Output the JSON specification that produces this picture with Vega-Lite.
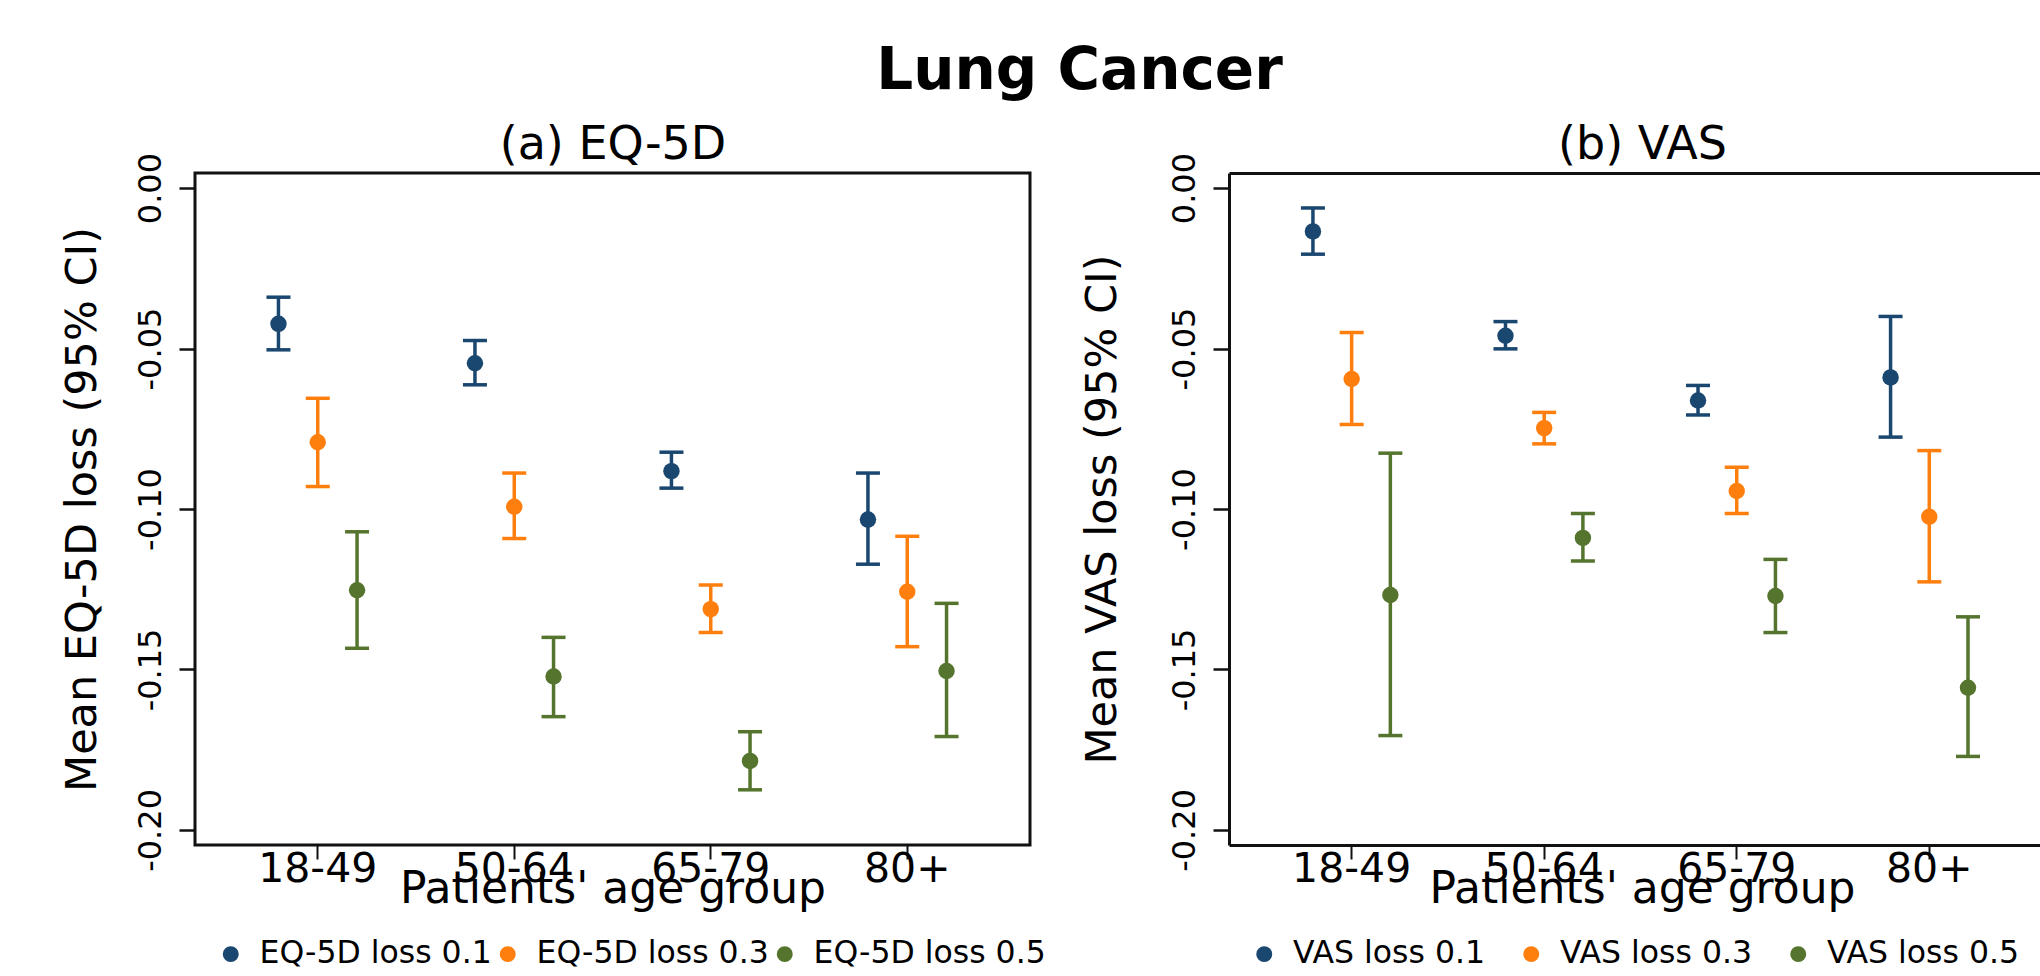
{
  "$schema": "https://vega.github.io/schema/vega-lite/v6.json",
  "padding": {"left": 59, "top": 40, "right": 0, "bottom": 0},
  "bounds": "flush",
  "spacing": 199,
  "config": {
    "font": "DejaVu Sans",
    "view": {"stroke": "#111", "strokeWidth": 3},
    "axis": {"grid": false, "labelColor": "#000", "titleColor": "#000", "tickColor": "#111", "domainColor": "#111", "labelFont": "DejaVu Sans", "titleFont": "DejaVu Sans"},
    "legend": {"labelFont": "DejaVu Sans", "labelColor": "#000"}
  },
  "resolve": {
    "scale": {"color": "independent", "x": "independent", "y": "independent", "xOffset": "independent"},
    "legend": {"color": "independent"},
    "axis": {"x": "independent", "y": "independent"}
  },
  "datasets": {
    "eq": [
      {"age": "18-49", "s": "0.1", "label": "EQ-5D loss 0.1", "m": -0.0423, "lo": -0.0504, "hi": -0.0340},
      {"age": "18-49", "s": "0.3", "label": "EQ-5D loss 0.3", "m": -0.0792, "lo": -0.0930, "hi": -0.0655},
      {"age": "18-49", "s": "0.5", "label": "EQ-5D loss 0.5", "m": -0.1253, "lo": -0.1434, "hi": -0.1071},
      {"age": "50-64", "s": "0.1", "label": "EQ-5D loss 0.1", "m": -0.0546, "lo": -0.0613, "hi": -0.0475},
      {"age": "50-64", "s": "0.3", "label": "EQ-5D loss 0.3", "m": -0.0993, "lo": -0.1092, "hi": -0.0888},
      {"age": "50-64", "s": "0.5", "label": "EQ-5D loss 0.5", "m": -0.1522, "lo": -0.1647, "hi": -0.1400},
      {"age": "65-79", "s": "0.1", "label": "EQ-5D loss 0.1", "m": -0.0882, "lo": -0.0935, "hi": -0.0823},
      {"age": "65-79", "s": "0.3", "label": "EQ-5D loss 0.3", "m": -0.1312, "lo": -0.1385, "hi": -0.1237},
      {"age": "65-79", "s": "0.5", "label": "EQ-5D loss 0.5", "m": -0.1785, "lo": -0.1875, "hi": -0.1694},
      {"age": "80+", "s": "0.1", "label": "EQ-5D loss 0.1", "m": -0.1033, "lo": -0.1172, "hi": -0.0888},
      {"age": "80+", "s": "0.3", "label": "EQ-5D loss 0.3", "m": -0.1258, "lo": -0.1429, "hi": -0.1085},
      {"age": "80+", "s": "0.5", "label": "EQ-5D loss 0.5", "m": -0.1505, "lo": -0.1709, "hi": -0.1294}
    ],
    "vas": [
      {"age": "18-49", "s": "0.1", "label": "VAS loss 0.1", "m": -0.0135, "lo": -0.0206, "hi": -0.0062},
      {"age": "18-49", "s": "0.3", "label": "VAS loss 0.3", "m": -0.0595, "lo": -0.0737, "hi": -0.0450},
      {"age": "18-49", "s": "0.5", "label": "VAS loss 0.5", "m": -0.1268, "lo": -0.1706, "hi": -0.0826},
      {"age": "50-64", "s": "0.1", "label": "VAS loss 0.1", "m": -0.0460, "lo": -0.0501, "hi": -0.0416},
      {"age": "50-64", "s": "0.3", "label": "VAS loss 0.3", "m": -0.0748, "lo": -0.0797, "hi": -0.0699},
      {"age": "50-64", "s": "0.5", "label": "VAS loss 0.5", "m": -0.1090, "lo": -0.1162, "hi": -0.1014},
      {"age": "65-79", "s": "0.1", "label": "VAS loss 0.1", "m": -0.0662, "lo": -0.0707, "hi": -0.0615},
      {"age": "65-79", "s": "0.3", "label": "VAS loss 0.3", "m": -0.0944, "lo": -0.1014, "hi": -0.0870},
      {"age": "65-79", "s": "0.5", "label": "VAS loss 0.5", "m": -0.1271, "lo": -0.1385, "hi": -0.1157},
      {"age": "80+", "s": "0.1", "label": "VAS loss 0.1", "m": -0.0590, "lo": -0.0776, "hi": -0.0400},
      {"age": "80+", "s": "0.3", "label": "VAS loss 0.3", "m": -0.1024, "lo": -0.1227, "hi": -0.0818},
      {"age": "80+", "s": "0.5", "label": "VAS loss 0.5", "m": -0.1557, "lo": -0.1771, "hi": -0.1336}
    ]
  },
  "hconcat": [
    {
      "width": 835,
      "height": 672,
      "data": {"name": "eq"},
      "resolve": {"axis": {"x": "independent", "y": "independent"}},
      "encoding": {
        "xOffset": {"field": "s", "type": "nominal", "sort": ["0.1", "0.3", "0.5"], "scale": {"paddingInner": 0, "paddingOuter": 1.019}},
        "color": {"field": "label", "type": "nominal",
          "scale": {"domain": ["EQ-5D loss 0.1", "EQ-5D loss 0.3", "EQ-5D loss 0.5"], "range": ["#1a476f", "#ff7f0e", "#55752f"]},
          "legend": {"orient": "none", "legendX": 20, "legendY": 765, "direction": "horizontal", "columns": 3, "title": null, "labelFontSize": 31.5, "symbolSize": 254, "symbolType": "circle", "labelOffset": 13, "columnPadding": 0, "padding": 0, "labelLimit": 400, "symbolStrokeWidth": 0}}
      },
      "layer": [
        {
          "mark": {"type": "rule", "strokeWidth": 3.5},
          "encoding": {
            "x": {"field": "age", "type": "nominal", "sort": ["18-49", "50-64", "65-79", "80+"], "title": "Patients' age group",
              "scale": {"paddingInner": 0, "paddingOuter": 0.1247},
              "axis": {"labelAngle": 0, "labelFontSize": 41, "labelBaseline": "top", "tickSize": 14, "tickWidth": 2, "labelPadding": -9.5, "domain": false, "titleFontSize": 44, "titleFontWeight": "normal", "titleBaseline": "alphabetic", "titleY": 57, "titleX": 417.5, "labelOverlap": false, "labelBound": false}},
            "y": {"field": "lo", "type": "quantitative", "title": "Mean EQ-5D loss (95% CI)",
              "scale": {"domain": [-0.2047, 0.0047], "nice": false, "zero": false},
              "axis": {"values": [0, -0.05, -0.1, -0.15, -0.2], "labelExpr": "replace(format(datum.value, '.2f'), '\u2212', '-')", "labelAngle": 270, "labelAlign": "center", "labelBaseline": "alphabetic", "labelFontSize": 32, "labelPadding": 19, "tickSize": 16, "tickWidth": 2.5, "domain": false, "titleFontSize": 43, "titleFontWeight": "normal", "titleAngle": 270, "titleAlign": "center", "titleBaseline": "alphabetic", "titleX": -100, "titleY": 336, "labelOverlap": false, "labelBound": false}},
            "y2": {"field": "hi"}
          }
        },
        {
          "mark": {"type": "tick", "size": 24, "thickness": 3.5, "opacity": 1},
          "encoding": {
            "x": {"field": "age", "type": "nominal", "sort": ["18-49", "50-64", "65-79", "80+"], "axis": null},
            "y": {"field": "lo", "type": "quantitative", "axis": null}}
        },
        {
          "mark": {"type": "tick", "size": 24, "thickness": 3.5, "opacity": 1},
          "encoding": {
            "x": {"field": "age", "type": "nominal", "sort": ["18-49", "50-64", "65-79", "80+"], "axis": null},
            "y": {"field": "hi", "type": "quantitative", "axis": null}}
        },
        {
          "mark": {"type": "point", "filled": true, "size": 270, "opacity": 1},
          "encoding": {
            "x": {"field": "age", "type": "nominal", "sort": ["18-49", "50-64", "65-79", "80+"], "title": "(a) EQ-5D",
              "axis": {"orient": "top", "labels": false, "ticks": false, "domain": false, "titleFontSize": 46, "titleFontWeight": "normal", "titleBaseline": "alphabetic", "titleAlign": "center", "titleX": 417.5, "titleY": -15}},
            "y": {"field": "m", "type": "quantitative", "title": "Lung Cancer",
              "axis": {"orient": "right", "labels": false, "ticks": false, "domain": false, "titleAngle": 0, "titleFontSize": 58, "titleFontWeight": "bold", "titleBaseline": "alphabetic", "titleAlign": "center", "titleX": 49, "titleY": -85}}}
        }
      ]
    },
    {
      "width": 811,
      "height": 672,
      "view": {"stroke": null},
      "data": {"name": "vas"},
      "resolve": {"axis": {"x": "independent", "y": "independent"}},
      "encoding": {
        "xOffset": {"field": "s", "type": "nominal", "sort": ["0.1", "0.3", "0.5"], "scale": {"paddingInner": 0, "paddingOuter": 0.987}},
        "color": {"field": "label", "type": "nominal",
          "scale": {"domain": ["VAS loss 0.1", "VAS loss 0.3", "VAS loss 0.5"], "range": ["#1a476f", "#ff7f0e", "#55752f"]},
          "legend": {"orient": "none", "legendX": 19.5, "legendY": 765, "direction": "horizontal", "columns": 3, "title": null, "labelFontSize": 31.5, "symbolSize": 254, "symbolType": "circle", "labelOffset": 13, "columnPadding": 30, "padding": 0, "labelLimit": 400, "symbolStrokeWidth": 0}}
      },
      "layer": [
        {
          "mark": {"type": "rule", "strokeWidth": 3.5},
          "encoding": {
            "x": {"field": "age", "type": "nominal", "sort": ["18-49", "50-64", "65-79", "80+"], "title": "Patients' age group",
              "scale": {"paddingInner": 0, "paddingOuter": 0.106, "align": 0.646},
              "axis": {"labelAngle": 0, "labelFontSize": 41, "labelBaseline": "top", "tickSize": 14, "tickWidth": 2, "labelPadding": -9.5, "domain": true, "domainWidth": 3, "titleFontSize": 44, "titleFontWeight": "normal", "titleBaseline": "alphabetic", "titleY": 57, "titleX": 413, "labelOverlap": false, "labelBound": false}},
            "y": {"field": "lo", "type": "quantitative", "title": "Mean VAS loss (95% CI)",
              "scale": {"domain": [-0.2047, 0.0047], "nice": false, "zero": false},
              "axis": {"values": [0, -0.05, -0.1, -0.15, -0.2], "labelExpr": "replace(format(datum.value, '.2f'), '\u2212', '-')", "labelAngle": 270, "labelAlign": "center", "labelBaseline": "alphabetic", "labelFontSize": 32, "labelPadding": 19, "tickSize": 16, "tickWidth": 2.5, "domain": true, "domainWidth": 3, "titleFontSize": 43, "titleFontWeight": "normal", "titleAngle": 270, "titleAlign": "center", "titleBaseline": "alphabetic", "titleX": -114, "titleY": 336, "labelOverlap": false, "labelBound": false}},
            "y2": {"field": "hi"}
          }
        },
        {
          "mark": {"type": "tick", "size": 24, "thickness": 3.5, "opacity": 1},
          "encoding": {
            "x": {"field": "age", "type": "nominal", "sort": ["18-49", "50-64", "65-79", "80+"], "axis": null},
            "y": {"field": "lo", "type": "quantitative", "axis": null}}
        },
        {
          "mark": {"type": "tick", "size": 24, "thickness": 3.5, "opacity": 1},
          "encoding": {
            "x": {"field": "age", "type": "nominal", "sort": ["18-49", "50-64", "65-79", "80+"], "axis": null},
            "y": {"field": "hi", "type": "quantitative", "axis": null}}
        },
        {
          "mark": {"type": "point", "filled": true, "size": 270, "opacity": 1},
          "encoding": {
            "x": {"field": "age", "type": "nominal", "sort": ["18-49", "50-64", "65-79", "80+"], "title": "(b) VAS",
              "axis": {"orient": "top", "labels": false, "ticks": false, "domain": true, "domainWidth": 3, "titleFontSize": 46, "titleFontWeight": "normal", "titleBaseline": "alphabetic", "titleAlign": "center", "titleX": 413, "titleY": -15}},
            "y": {"field": "m", "type": "quantitative", "axis": null}}
        }
      ]
    }
  ]
}
